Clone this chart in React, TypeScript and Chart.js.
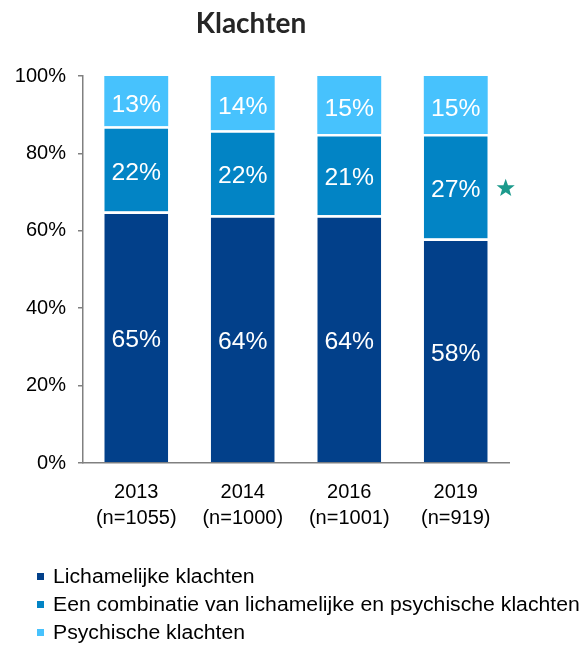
import React, { useEffect, useRef } from "react";
import { Chart, registerables } from "chart.js";

Chart.register(...registerables);

const years = ["2013", "2014", "2016", "2019"];
const sampleSizes = ["(n=1055)", "(n=1000)", "(n=1001)", "(n=919)"];
const lichamelijk = [65, 64, 64, 58];
const combinatie = [22, 22, 21, 27];
const psychisch = [13, 14, 15, 15];
const seriesLabels = [
  "Lichamelijke klachten",
  "Een combinatie van lichamelijke en psychische klachten",
  "Psychische klachten",
];
const seriesColors = ["#02408A", "#0284C5", "#47C2FD"];
const yTicks = [0, 20, 40, 60, 80, 100];
const title = "Klachten";
// significant change marker: [datasetIndex, categoryIndex]
const starMarks = [[1, 3]];

const FONT = "'Liberation Sans', Arial, sans-serif";

const overlayPlugin = {
  id: "overlay",
  afterDatasetsDraw(chart: any) {
    const ctx = chart.ctx;
    ctx.save();
    // data labels
    ctx.fillStyle = "#ffffff";
    ctx.font = `24px ${FONT}`;
    ctx.textAlign = "center";
    ctx.textBaseline = "middle";
    chart.data.datasets.forEach((ds: any, di: number) => {
      const meta = chart.getDatasetMeta(di);
      meta.data.forEach((el: any, i: number) => {
        const cy = (el.y + el.base) / 2;
        ctx.save();
        ctx.translate(el.x, cy + 4);
        ctx.scale(1.03, 1);
        ctx.fillText(ds.data[i] + "%", 0, 0);
        ctx.restore();
      });
    });
    // stars
    starMarks.forEach(([di, ci]) => {
      const el: any = chart.getDatasetMeta(di).data[ci];
      const cx = el.x + el.width / 2 + 18;
      const cy = (el.y + el.base) / 2 + 2;
      const R = 9.5;
      const r = 3.9;
      ctx.beginPath();
      for (let k = 0; k < 10; k++) {
        const ang = -Math.PI / 2 + (k * Math.PI) / 5;
        const rad = k % 2 === 0 ? R : r;
        const px = cx + rad * Math.cos(ang);
        const py = cy + rad * Math.sin(ang);
        if (k === 0) ctx.moveTo(px, py);
        else ctx.lineTo(px, py);
      }
      ctx.closePath();
      ctx.fillStyle = "#1C9A8C";
      ctx.fill();
    });
    ctx.restore();
  },
  afterDraw(chart: any) {
    const ctx = chart.ctx;
    ctx.save();
    // title
    ctx.fillStyle = "#262626";
    ctx.font = `bold 28px Lato, 'Open Sans', sans-serif`;
    ctx.textAlign = "center";
    ctx.textBaseline = "alphabetic";
    ctx.fillText(title, 251, 33);
    // legend
    ctx.font = `20px ${FONT}`;
    ctx.textAlign = "left";
    ctx.textBaseline = "middle";
    chart.data.datasets.forEach((ds: any, di: number) => {
      const cy = 577 + di * 28;
      ctx.fillStyle = ds.backgroundColor;
      ctx.fillRect(37, cy - 4, 7, 7);
      ctx.fillStyle = "#000000";
      ctx.save();
      ctx.translate(53, cy);
      ctx.scale(1.06, 1);
      ctx.fillText(ds.label, 0, 0);
      ctx.restore();
    });
    ctx.restore();
  },
};

export default function App() {
  const ref = useRef<HTMLCanvasElement>(null);
  useEffect(() => {
    if (!ref.current) return;
    const datasetsData = [lichamelijk, combinatie, psychisch];
    const chart = new Chart(ref.current, {
      type: "bar",
      data: {
        labels: years.map((y, i) => [y, sampleSizes[i]]),
        datasets: datasetsData.map((d, i) => ({
          label: seriesLabels[i],
          data: d,
          backgroundColor: seriesColors[i],
          borderColor: "#ffffff",
          borderWidth: { top: i === datasetsData.length - 1 ? 0 : 2.5, left: 0, right: 0, bottom: 0 },
          borderSkipped: false,
          categoryPercentage: 1,
          barPercentage: 0.6,
        })),
      },
      options: {
        responsive: false,
        animation: false,
        devicePixelRatio: 1,
        layout: { padding: { top: 76, right: 74, left: 0, bottom: 0 } },
        plugins: {
          legend: { display: false },
          tooltip: { enabled: false },
          title: { display: false },
        },
        scales: {
          x: {
            stacked: true,
            grid: { display: true, drawOnChartArea: false, drawTicks: false },
            border: { display: true, color: "#808080", width: 1.5 },
            ticks: {
              color: "#000000",
              font: { family: FONT, size: 20, lineHeight: 1.3 },
              padding: 16,
              maxRotation: 0,
            },
            afterFit(scale: any) {
              scale.height = 183;
            },
          },
          y: {
            stacked: true,
            min: 0,
            max: 100,
            afterBuildTicks(scale: any) {
              scale.ticks = yTicks.map((v) => ({ value: v }));
            },
            grid: {
              drawOnChartArea: false,
              drawTicks: true,
              tickLength: 5,
              color: "#808080",
              lineWidth: 1.5,
            },
            border: { display: true, color: "#808080", width: 1.5 },
            ticks: {
              color: "#000000",
              font: { family: FONT, size: 20 },
              padding: 12,
              callback: (v: any) => v + "%",
            },
            afterFit(scale: any) {
              scale.width = 83;
            },
          },
        },
      },
      plugins: [overlayPlugin],
    } as any);
    return () => chart.destroy();
  }, []);
  return (
    <div style={{ position: "fixed", left: 0, top: 0, width: 583, height: 646, background: "#fff" }}>
      <canvas ref={ref} width={583} height={646} style={{ display: "block" }} />
    </div>
  );
}
